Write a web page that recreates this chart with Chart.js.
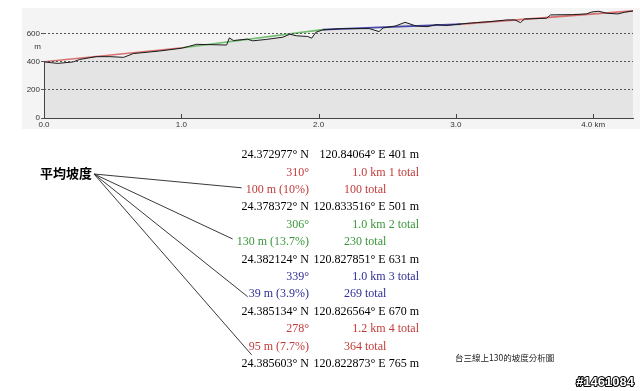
<!DOCTYPE html>
<html><head><meta charset="utf-8">
<script src="https://cdn.jsdelivr.net/npm/chart.js@4"></script>
<style>html,body{margin:0;padding:0;background:#fff;overflow:hidden}canvas{display:block}</style>
</head><body>
<canvas id="c" width="640" height="391"></canvas>
<script>
// Elevation profile: distance (km) and elevation (m)
const profileKm = [0.00, 0.05, 0.10, 0.21, 0.26, 0.38, 0.48, 0.58, 0.65, 0.84, 1.00, 1.05, 1.11, 1.33, 1.35, 1.38, 1.48, 1.52, 1.62, 1.74, 1.79, 1.84, 1.92, 1.95, 1.98, 2.03, 2.16, 2.37, 2.44, 2.47, 2.56, 2.63, 2.71, 2.79, 2.86, 2.93, 3.03, 3.15, 3.27, 3.37, 3.43, 3.47, 3.50, 3.66, 3.69, 3.85, 3.95, 3.99, 4.04, 4.10, 4.18, 4.23, 4.29];
const profileElev = [401, 395, 390, 400, 418, 438, 438, 433, 460, 478, 498, 510, 526, 521, 572, 553, 563, 551, 561, 577, 598, 587, 582, 570, 612, 629, 638, 638, 617, 643, 657, 683, 657, 652, 667, 660, 671, 681, 690, 700, 700, 681, 707, 712, 736, 738, 743, 757, 762, 748, 743, 755, 764];

// Waypoints (slope segments)
const waypointKm = [0, 1.01, 2.03, 3.04, 4.29];
const waypointElev = [401, 501, 631, 670, 765];
const waypointLat = ['24.372977', '24.378372', '24.382124', '24.385134', '24.385603'];
const waypointLon = ['120.84064', '120.833516', '120.827851', '120.826564', '120.822873'];
const segBearing = [310, 306, 339, 278];
const segDistKm = ['1.0', '1.0', '1.0', '1.2'];
const segClimb = [100, 130, 39, 95];
const segGrade = ['10%', '13.7%', '3.9%', '7.7%'];
const segTotal = [100, 230, 269, 364];

// Tick labels
const xTicks = [0, 1, 2, 3, 4];
const xTickLabels = ['0.0', '1.0', '2.0', '3.0', '4.0 km'];
const yTicks = [0, 200, 400, 600];
const yUnit = 'm';
const xMax = 4.29, yMax = 771;

const titleLabel = '平均坡度';
const caption = '台三線上130的坡度分析圖';
const watermark = '#1461084';

// styles
const segTextColors = ['#c23b3b', '#3a963a', '#2e2e96', '#c23b3b'];
const segLineColors = ['rgba(210,80,80,0.8)', 'rgba(90,180,90,0.85)', 'rgba(40,40,160,0.85)', 'rgba(210,80,80,0.8)'];
const leaderOffsets = [[-4, -2], [-4, -3], [-1, 2.5], [3, 8.5]];

const profile = profileKm.map((x, i) => ({x, y: profileElev[i]}));
const waypoints = waypointKm.map((x, i) => ({x, y: waypointElev[i]}));

const decor = {
  id: 'decor',
  beforeDraw(chart) {
    const ctx = chart.ctx;
    ctx.save();
    ctx.fillStyle = '#f4f4f4';
    ctx.fillRect(22, 8, 618, 121);
    ctx.restore();
  },
  afterDatasetsDraw(chart) {
    const ctx = chart.ctx, xs = chart.scales.x, ys = chart.scales.y;
    ctx.save();
    ctx.strokeStyle = '#444';
    ctx.lineWidth = 1;
    ctx.beginPath();
    const x0 = Math.round(xs.getPixelForValue(0)) + 0.5;
    ctx.moveTo(x0, ys.getPixelForValue(0));
    ctx.lineTo(x0, ys.getPixelForValue(profileElev[0]));
    const yb = ys.getPixelForValue(0);
    xTicks.slice(1).forEach(v => {
      const px = Math.round(xs.getPixelForValue(v)) + 0.5;
      ctx.moveTo(px, yb);
      ctx.lineTo(px, yb - 4);
    });
    ctx.stroke();
    ctx.fillStyle = '#333';
    ctx.font = '8px "Liberation Sans", Arial';
    ctx.textAlign = 'right';
    ctx.textBaseline = 'middle';
    ctx.fillText(yUnit, 41, 47);
    ctx.restore();
  },
  afterDraw(chart) {
    const ctx = chart.ctx;
    ctx.save();
    ctx.textBaseline = 'middle';
    ctx.font = '12px "Liberation Serif", "Times New Roman", serif';
    const colR = 309, colR2 = 419, colL2 = 344, top = 155, step = 17.4;
    let row = 0;
    const climbRows = [];
    for (let i = 0; i < waypointLat.length; i++) {
      const y = top + row * step; row++;
      ctx.fillStyle = '#000';
      ctx.textAlign = 'right';
      ctx.fillText(waypointLat[i] + '° N', colR, y);
      ctx.fillText(waypointLon[i] + '° E ' + waypointElev[i] + ' m', colR2, y);
      if (i < segBearing.length) {
        const y1 = top + row * step; row++;
        const y2 = top + row * step; row++;
        ctx.fillStyle = segTextColors[i];
        ctx.textAlign = 'right';
        ctx.fillText(segBearing[i] + '°', colR, y1);
        ctx.fillText(segDistKm[i] + ' km ' + (i + 1) + ' total', colR2, y1);
        const s = segClimb[i] + ' m (' + segGrade[i] + ')';
        ctx.fillText(s, colR, y2);
        ctx.textAlign = 'left';
        ctx.fillText(segTotal[i] + ' total', colL2, y2);
        climbRows.push({left: colR - ctx.measureText(s).width, y: y2});
      }
    }
    // title and leader lines
    ctx.fillStyle = '#000';
    ctx.textAlign = 'left';
    ctx.font = 'bold 13px "Noto Sans CJK TC", "Noto Sans CJK SC", sans-serif';
    ctx.fillText(titleLabel, 40, 173);
    ctx.strokeStyle = '#222';
    ctx.lineWidth = 0.9;
    ctx.beginPath();
    climbRows.forEach((r, i) => {
      ctx.moveTo(94, 174);
      ctx.lineTo(r.left + leaderOffsets[i][0], r.y + leaderOffsets[i][1]);
    });
    ctx.stroke();
    // caption
    ctx.font = '8.5px "Noto Sans CJK TC", sans-serif';
    ctx.fillStyle = '#222';
    ctx.fillText(caption, 455, 358);
    // watermark
    ctx.font = 'bold 13px "Liberation Sans", Arial';
    ctx.textAlign = 'right';
    ctx.lineWidth = 2;
    ctx.strokeStyle = '#000';
    ctx.lineJoin = 'round';
    ctx.strokeText(watermark, 634, 382);
    ctx.fillStyle = '#fff';
    ctx.fillText(watermark, 634, 382);
    ctx.restore();
  }
};

new Chart(document.getElementById('c'), {
  type: 'line',
  data: {
    datasets: [
      {data: profile, borderColor: '#1a1a1a', borderWidth: 1, fill: false, pointRadius: 0, tension: 0},
      {data: waypoints, borderWidth: 1.6, pointRadius: 0, fill: false, tension: 0,
        borderColor: segLineColors[0],
        segment: {borderColor: c => segLineColors[c.p0DataIndex]}},
      {data: profile, borderWidth: 0, borderColor: 'rgba(0,0,0,0)', backgroundColor: '#e4e4e4', fill: 'origin', pointRadius: 0, tension: 0}
    ]
  },
  options: {
    responsive: false,
    animation: false,
    events: [],
    layout: {padding: {left: 0, right: 7, top: 10, bottom: 261}},
    plugins: {legend: {display: false}, tooltip: {enabled: false}},
    scales: {
      x: {
        type: 'linear', min: 0, max: xMax,
        afterBuildTicks: s => { s.ticks = xTicks.map(v => ({value: v})); },
        afterFit: s => { s.height = 12; },
        ticks: {
          callback: (v) => xTickLabels[xTicks.indexOf(v)],
          font: {family: '"Liberation Sans", Arial', size: 8}, color: '#333',
          padding: 2, maxRotation: 0, autoSkip: false
        },
        grid: {display: false, drawTicks: false},
        border: {display: true, color: '#444', width: 1, z: 1}
      },
      y: {
        min: 0, max: yMax,
        afterBuildTicks: s => { s.ticks = yTicks.map(v => ({value: v})); },
        afterFit: s => { s.width = 44; },
        ticks: {
          font: {family: '"Liberation Sans", Arial', size: 8}, color: '#333', padding: 1
        },
        grid: {
          color: c => (c.tick && c.tick.value === 0) ? 'rgba(0,0,0,0)' : '#555',
          tickColor: '#555', tickLength: 3, lineWidth: 1, z: 1
        },
        border: {display: false, dash: [2, 2]}
      }
    }
  },
  plugins: [decor]
});
</script>
</body></html>
